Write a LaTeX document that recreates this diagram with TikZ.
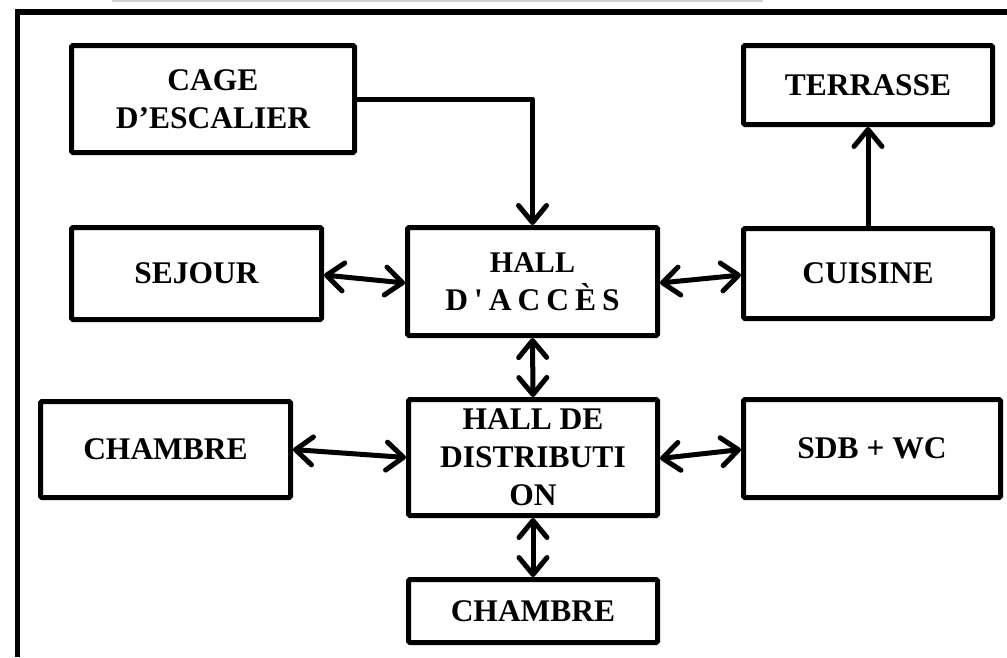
\documentclass[tikz,border=0pt]{standalone}
\usepackage{fontspec}
\setmainfont{Liberation Serif}
\usetikzlibrary{arrows.meta}
\tikzset{
  room/.style={draw=black, line width=5pt, rounded corners=1.5pt, inner sep=0pt,
    align=center, font=\bfseries\fontsize{31.5}{38}\selectfont},
  link/.style={line width=5pt, line cap=round, line join=round,
    {Straight Barb[length=17pt,width=28pt,round]}-{Straight Barb[length=17pt,width=28pt,round]}},
  onelink/.style={line width=5pt, line join=round,
    -{Straight Barb[length=17pt,width=28pt,round]}},
  frame/.style={line width=5.5pt}
}
\newcommand{\spc}{\kern6pt}
\begin{document}
\begin{tikzpicture}[x=1pt,y=-1pt]
\useasboundingbox (0,0) rectangle (1007,657);
\fill[white] (0,0) rectangle (1007,657);
\draw[black!18, line width=1.5pt] (112,0.75) -- (763,0.75);
\draw[frame] (17.5,657) -- (17.5,12) -- (1007,12);

\node[room, minimum width=283pt, minimum height=107pt] (cage) at (213,99) {CAGE\\D’ESCALIER};
\node[room, minimum width=250pt, minimum height=92pt] (sejour) at (196.5,273.5) {SEJOUR};
\node[room, minimum width=250pt, minimum height=108pt] (halla) at (532.5,281.5)
  {\fontsize{30}{39}\selectfont HALL\\D\spc\textquotesingle\spc A\spc C\spc C\spc È\spc S};
\node[room, minimum width=249pt, minimum height=79pt] (terrasse) at (868,85) {TERRASSE};
\node[room, minimum width=249pt, minimum height=90pt] (cuisine) at (868,273.5) {CUISINE};
\node[room, minimum width=250pt, minimum height=96pt] (ch1) at (165.5,449.5) {CHAMBRE};
\node[room, minimum width=249pt, minimum height=116pt] (halld) at (533,457.5) {HALL DE\\DISTRIBUTI\\ON};
\node[room, minimum width=257pt, minimum height=98pt] (sdb) at (872,448.5) {SDB + WC};
\node[room, minimum width=249pt, minimum height=63pt] (ch2) at (533,611) {CHAMBRE};

\draw[onelink] (cage.east) -| (halla.north);
\draw[onelink] (cuisine.north) -- (terrasse.south);
\draw[link] ([yshift=-1.5pt]sejour.east) -- ([yshift=-1.5pt]halla.west);
\draw[link] ([yshift=-1.5pt]halla.east) -- ([yshift=-1.5pt]cuisine.west);
\draw[link] (halla.south) -- (halld.north);
\draw[link] (ch1.east) -- (halld.west);
\draw[link] ([yshift=-1pt]halld.east) -- ([yshift=-1pt]sdb.west);
\draw[link] (halld.south) -- (ch2.north);
\end{tikzpicture}
\end{document}
